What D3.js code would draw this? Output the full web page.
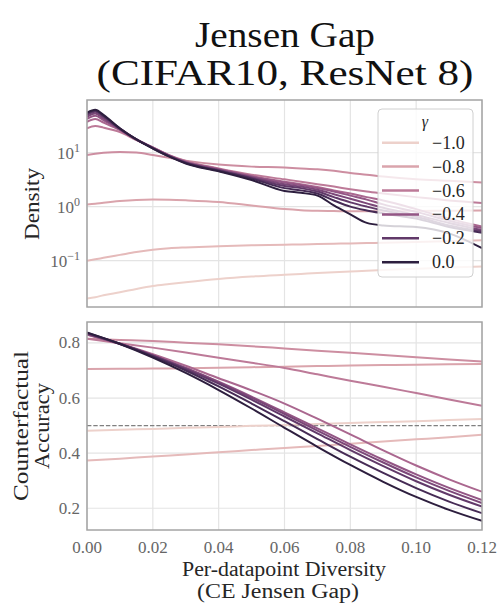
<!DOCTYPE html>
<html>
<head>
<meta charset="utf-8">
<script src="https://cdn.jsdelivr.net/npm/d3@7"></script>
<style>
  body { margin: 0; background: #fff; }
  svg text { font-family: "Liberation Serif", "DejaVu Serif", serif; }
</style>
</head>
<body>
<svg id="chart" width="499" height="611"></svg>
<script>

// gamma of each line (light -> dark), and the subset shown in the legend
const gammas = [-1.0, -0.9, -0.8, -0.7, -0.6, -0.5, -0.4, -0.3, -0.2, -0.1, 0.0];
const legendGammas = [-1.0, -0.8, -0.6, -0.4, -0.2, 0.0];

// top panel: density (log scale)
const densityX = [0, 0.0025, 0.005, 0.01, 0.015, 0.02, 0.025, 0.03, 0.04, 0.05, 0.06, 0.065, 0.07, 0.075, 0.08, 0.085, 0.09, 0.10, 0.11, 0.12];
const densityM10 = [0.020, 0.021, 0.023, 0.026, 0.030, 0.034, 0.037, 0.040, 0.046, 0.051, 0.055, 0.057, 0.059, 0.061, 0.063, 0.065, 0.067, 0.071, 0.075, 0.078];
const densityM09 = [0.100, 0.106, 0.113, 0.128, 0.145, 0.160, 0.170, 0.176, 0.185, 0.192, 0.198, 0.200, 0.203, 0.206, 0.209, 0.212, 0.215, 0.222, 0.230, 0.238];
const densityM08 = [1.09, 1.13, 1.18, 1.27, 1.33, 1.35, 1.34, 1.31, 1.22, 1.05, 0.90, 0.86, 0.84, 0.83, 0.82, 0.82, 0.82, 0.83, 0.84, 0.85];
const densityM07 = [9.0, 9.5, 9.9, 10.3, 10.0, 9.0, 8.0, 7.1, 6.0, 5.5, 5.3, 5.1, 4.9, 4.6, 4.2, 3.9, 3.6, 3.2, 3.0, 2.8];
const densityM06 = [28, 31, 29, 24, 17, 12.5, 9.0, 7.0, 5.1, 3.9, 3.2, 2.9, 2.6, 2.35, 2.1, 1.9, 1.75, 1.5, 1.3, 1.17];
const densityM05 = [37, 42, 36, 26, 17.5, 12.5, 8.9, 6.8, 5.0, 3.7, 2.9, 2.6, 2.3, 2.0, 1.75, 1.5, 1.3, 0.9, 0.6, 0.43];
const densityM04 = [42, 48, 40, 26.5, 17.5, 12.3, 8.8, 6.7, 4.9, 3.6, 2.8, 2.5, 2.2, 1.9, 1.6, 1.35, 1.1, 0.8, 0.55, 0.40];
const densityM03 = [46, 53, 43, 27, 17.5, 12.2, 8.7, 6.6, 4.8, 3.5, 2.6, 2.35, 2.05, 1.7, 1.4, 1.15, 0.95, 0.7, 0.5, 0.37];
const densityM02 = [50, 57, 46, 27.5, 17.5, 12.1, 8.6, 6.5, 4.7, 3.4, 2.4, 2.2, 1.9, 1.5, 1.2, 1.0, 0.85, 0.65, 0.45, 0.35];
const densityM01 = [53, 60, 48, 28, 17.5, 12.0, 8.5, 6.4, 4.6, 3.3, 2.2, 2.0, 1.75, 1.3, 1.0, 0.85, 0.75, 0.6, 0.42, 0.33];
const densityZ00 = [55, 62, 50, 28, 17.5, 11.9, 8.4, 6.3, 4.5, 3.1, 1.95, 1.8, 1.6, 1.05, 0.72, 0.5, 0.45, 0.42, 0.32, 0.17];
const densityRows = [densityM10, densityM09, densityM08, densityM07, densityM06, densityM05,
                     densityM04, densityM03, densityM02, densityM01, densityZ00];
const densityTicks = [0.1, 1, 10];

// bottom panel: counterfactual accuracy
const accX = [0, 0.01, 0.02, 0.03, 0.04, 0.05, 0.06, 0.07, 0.08, 0.09, 0.10, 0.11, 0.12];
const accM10 = [0.481, 0.485, 0.488, 0.492, 0.495, 0.499, 0.502, 0.506, 0.509, 0.513, 0.516, 0.520, 0.524];
const accM09 = [0.373, 0.380, 0.388, 0.395, 0.403, 0.411, 0.419, 0.426, 0.434, 0.442, 0.450, 0.458, 0.467];
const accM08 = [0.705, 0.706, 0.707, 0.708, 0.710, 0.712, 0.714, 0.716, 0.718, 0.720, 0.721, 0.723, 0.724];
const accM07 = [0.815, 0.811, 0.807, 0.801, 0.795, 0.788, 0.780, 0.772, 0.764, 0.756, 0.748, 0.740, 0.733];
const accM06 = [0.815, 0.799, 0.783, 0.765, 0.746, 0.728, 0.709, 0.686, 0.663, 0.641, 0.618, 0.595, 0.572];
const accM05 = [0.830, 0.797, 0.759, 0.717, 0.672, 0.628, 0.580, 0.525, 0.468, 0.410, 0.355, 0.305, 0.260];
const accM04 = [0.831, 0.796, 0.755, 0.709, 0.659, 0.605, 0.548, 0.490, 0.432, 0.376, 0.323, 0.274, 0.230];
const accM03 = [0.833, 0.797, 0.755, 0.708, 0.657, 0.601, 0.542, 0.482, 0.423, 0.366, 0.312, 0.263, 0.219];
const accM02 = [0.834, 0.797, 0.754, 0.705, 0.652, 0.594, 0.533, 0.472, 0.411, 0.353, 0.298, 0.249, 0.206];
const accM01 = [0.836, 0.797, 0.751, 0.700, 0.642, 0.580, 0.516, 0.451, 0.387, 0.328, 0.273, 0.224, 0.182];
const accZ00 = [0.838, 0.796, 0.747, 0.691, 0.629, 0.562, 0.492, 0.423, 0.357, 0.296, 0.241, 0.194, 0.154];
const accRows = [accM10, accM09, accM08, accM07, accM06, accM05, accM04, accM03, accM02, accM01, accZ00];
const accTicks = [0.2, 0.4, 0.6, 0.8];
const chanceLevel = 0.5;

const xTicks = [0, 0.02, 0.04, 0.06, 0.08, 0.10, 0.12];

// seaborn's default cubehelix ramp (light .85 -> dark .15)
const cubehelix = (t) => {
  const x = 0.85 + (0.15 - 0.85) * t;
  const a = 0.8 * x * (1 - x) / 2;
  const phi = 2 * Math.PI * (0.4 * x);
  const c = (p0, p1) => Math.max(0, Math.min(1, x + a * (p0 * Math.cos(phi) + p1 * Math.sin(phi))));
  return d3.rgb(255 * c(-0.14861, 1.78277), 255 * c(-0.29227, -0.90649), 255 * c(1.97294, 0)).formatHex();
};
const color = g => cubehelix(g + 1);

const svg = d3.select("#chart");
const left = 87, right = 482;
const gridColor = "#e4e4e4", frameColor = "#a4a4a4", tickColor = "#666", labelColor = "#262626";

const x = d3.scaleLinear().domain([0, 0.12]).range([left, right]);
const yTop = d3.scaleLog().domain([0.0139, 94]).range([307, 100]);
const yBot = d3.scaleLinear().domain([0.121, 0.876]).range([530, 322]);

// text helper: the reference font (Computer Modern) is wider, so stretch to its measured width
const label = (txt, size, width, attrs) => {
  const t = svg.append("text").attr("font-size", size).attr("fill", labelColor)
    .attr("text-anchor", "middle").text(txt);
  Object.entries(attrs).forEach(([k, v]) => t.attr(k, v));
  if (width) t.attr("textLength", width).attr("lengthAdjust", "spacingAndGlyphs");
  return t;
};

// title
label("Jensen Gap", 36, 180, { x: 285, y: 47, fill: "#111" });
label("(CIFAR10, ResNet 8)", 36, 377, { x: 285, y: 85, fill: "#111" });

const panel = (id, y, yTicks) => {
  const [y0, y1] = y.range();
  const g = svg.append("g");
  g.append("clipPath").attr("id", id).append("rect")
    .attr("x", left).attr("y", y1).attr("width", right - left).attr("height", y0 - y1);
  g.selectAll(".vg").data(xTicks).join("line")
    .attr("x1", d => x(d)).attr("x2", d => x(d)).attr("y1", y1).attr("y2", y0)
    .attr("stroke", gridColor).attr("stroke-width", 1.2);
  g.selectAll(".hg").data(yTicks).join("line")
    .attr("x1", left).attr("x2", right).attr("y1", d => y(d)).attr("y2", d => y(d))
    .attr("stroke", gridColor).attr("stroke-width", 1.2);
  return g;
};

// ---- top panel
const gTop = panel("clipTop", yTop, densityTicks);
const lineTop = d3.line().x((d, i) => x(densityX[i])).y(d => yTop(d)).curve(d3.curveMonotoneX);
gTop.append("g").attr("clip-path", "url(#clipTop)")
  .selectAll("path").data(densityRows).join("path")
  .attr("d", lineTop).attr("fill", "none")
  .attr("stroke", (d, i) => color(gammas[i])).attr("stroke-width", 2);

// ---- bottom panel
const gBot = panel("clipBot", yBot, accTicks);
const lineBot = d3.line().x((d, i) => x(accX[i])).y(d => yBot(d)).curve(d3.curveMonotoneX);
const botLines = gBot.append("g").attr("clip-path", "url(#clipBot)");
botLines.append("line")
  .attr("x1", left).attr("x2", right).attr("y1", yBot(chanceLevel)).attr("y2", yBot(chanceLevel))
  .attr("stroke", "#808080").attr("stroke-width", 1.2).attr("stroke-dasharray", "4.4,1.9");
botLines.selectAll("path").data(accRows).join("path")
  .attr("d", lineBot).attr("fill", "none")
  .attr("stroke", (d, i) => color(gammas[i])).attr("stroke-width", 2);

// frames
[yTop, yBot].forEach(y => {
  const [y0, y1] = y.range();
  svg.append("rect").attr("x", left).attr("y", y1).attr("width", right - left).attr("height", y0 - y1)
    .attr("fill", "none").attr("stroke", frameColor).attr("stroke-width", 1.5);
});

// y tick labels
const logLabels = svg.append("g").selectAll("text").data(densityTicks).join("text")
  .attr("x", 80).attr("y", d => yTop(d) + 6).attr("text-anchor", "end")
  .attr("font-size", 17).attr("fill", tickColor);
logLabels.append("tspan").text("10");
logLabels.append("tspan").attr("dy", -7).attr("font-size", 12)
  .text(d => { const e = Math.round(Math.log10(d)); return e < 0 ? "\u2212" + (-e) : e; });

svg.append("g").selectAll("text").data(accTicks).join("text")
  .attr("x", 80).attr("y", d => yBot(d) + 5.5).attr("text-anchor", "end")
  .attr("font-size", 17).attr("fill", tickColor).text(d3.format(".1f"));

svg.append("g").selectAll("text").data(xTicks).join("text")
  .attr("x", d => x(d)).attr("y", 553).attr("text-anchor", "middle")
  .attr("font-size", 17).attr("fill", tickColor).text(d3.format(".2f"));

// axis labels
label("Density", 20, 72, { transform: `translate(39,204) rotate(-90)` });
label("Counterfactual", 20, 150, { transform: `translate(28,426) rotate(-90)` });
label("Accuracy", 20, 86, { transform: `translate(49,426) rotate(-90)` });
label("Per-datapoint Diversity", 20, 204, { x: 284, y: 576 });
label("(CE Jensen Gap)", 20, 162, { x: 278, y: 598 });

// legend
const lg = svg.append("g");
lg.append("rect").attr("x", 378).attr("y", 109).attr("width", 95).attr("height", 168).attr("rx", 4)
  .attr("fill", "#fff").attr("fill-opacity", 0.8).attr("stroke", "#d0d0d0").attr("stroke-width", 1);
lg.append("text").attr("x", 425).attr("y", 127).attr("text-anchor", "middle")
  .attr("font-size", 16).attr("font-style", "italic").attr("fill", labelColor).text("\u03b3");
const entry = lg.selectAll(".entry").data(legendGammas).join("g")
  .attr("transform", (d, i) => `translate(0,${142.7 + i * 23.9})`);
entry.append("line").attr("x1", 382).attr("x2", 419)
  .attr("stroke", d => color(d)).attr("stroke-width", 2.5);
entry.append("text").attr("x", 432).attr("y", 6).attr("font-size", 18).attr("fill", labelColor)
  .text(d => d < 0 ? "\u2212" + d3.format(".1f")(-d) : d3.format(".1f")(d));

</script>
</body>
</html>
